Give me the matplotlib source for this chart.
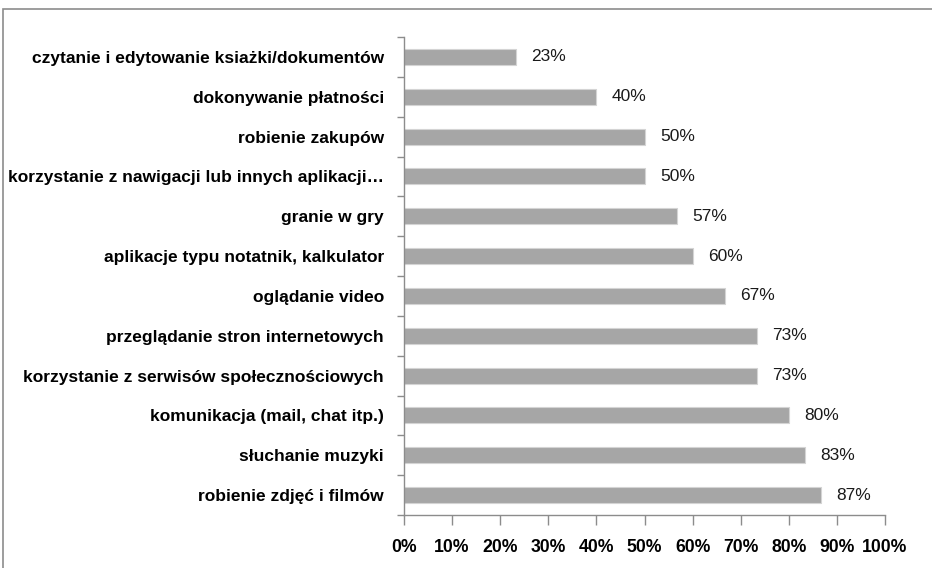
import matplotlib
matplotlib.use('Agg')
import matplotlib.pyplot as plt
from matplotlib.patches import Rectangle
import numpy as np

# dane z wykresu (kolejnosc od gory)
kategorie = [
    "czytanie i edytowanie ksiażki/dokumentów",
    "dokonywanie płatności",
    "robienie zakupów",
    "korzystanie z nawigacji lub innych aplikacji…",
    "granie w gry",
    "aplikacje typu notatnik, kalkulator",
    "oglądanie video",
    "przeglądanie stron internetowych",
    "korzystanie z serwisów społecznościowych",
    "komunikacja (mail, chat itp.)",
    "słuchanie muzyki",
    "robienie zdjęć i filmów",
]
wartosci = [23.3, 40.0, 50.0, 50.0, 56.7, 60.0, 66.7, 73.3, 73.3, 80.0, 83.3, 86.7]
etykiety = ["23%", "40%", "50%", "50%", "57%", "60%", "67%", "73%", "73%", "80%", "83%", "87%"]
ticki_x = [0, 10, 20, 30, 40, 50, 60, 70, 80, 90, 100]

W_PX, H_PX, DPI = 932, 568, 100
plt.rcParams['font.family'] = ['Liberation Sans', 'DejaVu Sans']

fig = plt.figure(figsize=(W_PX / DPI, H_PX / DPI), dpi=DPI)
fig.patch.set_facecolor('white')

# ramka wokol wykresu (widoczna tylko lewa i gorna krawedz)
fig.patches.append(Rectangle((2.5 / W_PX, -0.2), 1.5, 1.2 - 8.5 / H_PX,
                             transform=fig.transFigure, fill=False,
                             edgecolor='#8c8c8c', linewidth=1.2))

ax = fig.add_axes([404 / W_PX, 1 - 515 / H_PX, (885 - 404) / W_PX, (515 - 37) / H_PX])

y = np.arange(len(kategorie))
ax.barh(y, wartosci, height=0.4, color='#a6a6a6', edgecolor='#d4d4d4', linewidth=0.8)

for yi, v, lab in zip(y, wartosci, etykiety):
    ax.text(v + 3.2, yi, lab, va='center', ha='left', fontsize=12.5, color='#1a1a1a')

ax.set_xlim(0, 100)
ax.set_ylim(len(kategorie) - 0.5, -0.5)

ax.set_xticks(ticki_x)
ax.set_xticklabels([f"{t}%" for t in ticki_x], fontsize=12.7, fontweight='bold')
ax.tick_params(axis='x', direction='out', length=7, width=1, color='#8c8c8c', pad=10)

ax.set_yticks(y)
ax.set_yticklabels(kategorie, fontsize=12.5, fontweight='bold')
ax.tick_params(axis='y', which='major', length=0, pad=14.5)
ax.set_yticks(np.arange(-0.5, len(kategorie)), minor=True)
ax.tick_params(axis='y', which='minor', direction='out', length=5, width=1, color='#8c8c8c')

for s in ['top', 'right']:
    ax.spines[s].set_visible(False)
for s in ['left', 'bottom']:
    ax.spines[s].set_color('#8c8c8c')
    ax.spines[s].set_linewidth(1)

plt.savefig('out.png', dpi=DPI)
plt.close()
